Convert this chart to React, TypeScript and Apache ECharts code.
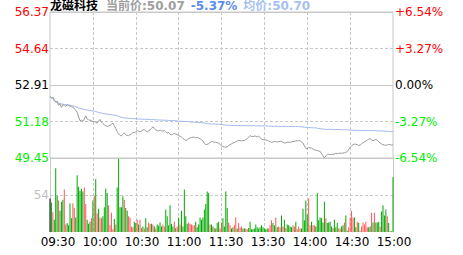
import React, { useEffect, useRef } from 'react';
import * as echarts from 'echarts';

const stockName = '龙磁科技';
const preClose = 52.91;
const pctRange = 6.54;
const xLabels = ['09:30', '10:00', '10:30', '11:00', '11:30', '13:30', '14:00', '14:30', '15:00'];
const volMax = 108;
const volMid = 54;

const prices = [
  52.37, 52.29, 52.33, 52.20, 52.10, 52.14, 51.95, 52.02, 51.85, 51.98,
  51.95, 51.90, 51.97, 51.93, 51.92, 51.88, 51.86, 51.78, 51.72, 51.62,
  51.40, 51.22, 51.24, 51.20, 51.30, 51.45, 51.30, 51.26, 51.24, 51.22,
  51.18, 51.17, 51.15, 51.10, 51.20, 51.28, 51.16, 51.08, 51.02, 50.98,
  50.95, 50.97, 51.00, 51.05, 51.10, 50.98, 50.85, 50.70, 50.60, 50.52,
  50.50, 50.58, 50.64, 50.55, 50.52, 50.51, 50.55, 50.60, 50.66, 50.64,
  50.70, 50.75, 50.72, 50.68, 50.72, 50.78, 50.80, 50.74, 50.69, 50.74,
  50.78, 50.85, 50.93, 50.84, 50.78, 50.75, 50.73, 50.78, 50.74, 50.73,
  50.75, 50.70, 50.63, 50.66, 50.57, 50.55, 50.58, 50.61, 50.58, 50.55,
  50.52, 50.48, 50.44, 50.38, 50.33, 50.29, 50.31, 50.37, 50.40, 50.42,
  50.44, 50.43, 50.41, 50.42, 50.40, 50.36, 50.32, 50.25, 50.15, 50.08,
  50.10, 50.13, 50.18, 50.24, 50.22, 50.19, 50.20, 50.17, 50.16, 50.10,
  50.02, 49.99, 49.97, 49.96, 49.98, 50.04, 50.08, 50.12, 50.16, 50.18,
  50.21, 50.26, 50.29, 50.27, 50.26, 50.28, 50.27, 50.32, 50.37, 50.44,
  50.51, 50.47, 50.46, 50.49, 50.48, 50.45, 50.48, 50.42, 50.34, 50.32,
  50.31, 50.30, 50.29, 50.26, 50.22, 50.19, 50.21, 50.23, 50.22, 50.21,
  50.23, 50.24, 50.24, 50.20, 50.16, 50.17, 50.19, 50.20, 50.19, 50.21,
  50.23, 50.24, 50.26, 50.27, 50.27, 50.26, 50.22, 50.16, 50.02, 49.90,
  49.88, 49.95, 49.93, 49.92, 49.88, 49.84, 49.82, 49.80, 49.78, 49.76,
  49.66, 49.55, 49.46, 49.55, 49.62, 49.63, 49.61, 49.62, 49.62, 49.64,
  49.67, 49.66, 49.67, 49.68, 49.67, 49.68, 49.70, 49.72, 49.75, 49.85,
  49.96, 50.02, 50.08, 50.11, 50.10, 50.07, 50.05, 50.06, 50.12, 50.18,
  50.21, 50.25, 50.30, 50.34, 50.37, 50.31, 50.27, 50.30, 50.33, 50.29,
  50.22, 50.16, 50.12, 50.08, 50.06, 50.05, 50.07, 50.09, 50.08, 50.07,
  50.07,
];

const avgPrices = [
  52.37, 52.31, 52.24, 52.16, 52.12, 52.09, 52.06, 52.03, 52.01, 52.00,
  51.99, 51.98, 51.98, 51.97, 51.95, 51.93, 51.92, 51.90, 51.88, 51.85,
  51.82, 51.80, 51.78, 51.77, 51.75, 51.74, 51.72, 51.71, 51.70, 51.69,
  51.68, 51.67, 51.65, 51.63, 51.61, 51.59, 51.58, 51.56, 51.55, 51.54,
  51.53, 51.52, 51.51, 51.50, 51.49, 51.48, 51.47, 51.45, 51.42, 51.40,
  51.38, 51.37, 51.35, 51.34, 51.34, 51.33, 51.33, 51.32, 51.32, 51.31,
  51.31, 51.30, 51.30, 51.30, 51.29, 51.29, 51.29, 51.28, 51.28, 51.28,
  51.27, 51.27, 51.27, 51.26, 51.26, 51.26, 51.25, 51.25, 51.25, 51.24,
  51.24, 51.24, 51.24, 51.23, 51.23, 51.23, 51.22, 51.22, 51.21, 51.20,
  51.20, 51.19, 51.19, 51.19, 51.18, 51.18, 51.18, 51.17, 51.16, 51.15,
  51.15, 51.14, 51.14, 51.14, 51.13, 51.13, 51.13, 51.12, 51.11, 51.09,
  51.08, 51.07, 51.07, 51.06, 51.06, 51.06, 51.05, 51.05, 51.05, 51.04,
  51.04, 51.03, 51.02, 51.01, 51.00, 51.00, 51.00, 51.00, 50.99, 50.99,
  50.99, 50.99, 50.99, 50.99, 50.98, 50.98, 50.98, 50.98, 50.98, 50.98,
  50.98, 50.98, 50.98, 50.98, 50.97, 50.97, 50.97, 50.97, 50.97, 50.97,
  50.97, 50.97, 50.96, 50.96, 50.96, 50.96, 50.95, 50.95, 50.95, 50.95,
  50.95, 50.95, 50.95, 50.95, 50.94, 50.94, 50.94, 50.94, 50.94, 50.94,
  50.94, 50.94, 50.94, 50.94, 50.94, 50.93, 50.93, 50.92, 50.91, 50.90,
  50.90, 50.89, 50.89, 50.89, 50.88, 50.88, 50.88, 50.86, 50.85, 50.84,
  50.83, 50.82, 50.81, 50.81, 50.81, 50.81, 50.81, 50.80, 50.80, 50.80,
  50.80, 50.80, 50.80, 50.80, 50.79, 50.79, 50.79, 50.79, 50.78, 50.77,
  50.77, 50.77, 50.77, 50.76, 50.76, 50.76, 50.76, 50.76, 50.76, 50.76,
  50.76, 50.76, 50.75, 50.75, 50.75, 50.75, 50.75, 50.75, 50.74, 50.74,
  50.74, 50.74, 50.73, 50.73, 50.72, 50.72, 50.72, 50.71, 50.71, 50.70,
  50.70,
];

const volumes = [
  49, 43, 29, 18, 93, 53, 46, 31, 44, 47,
  62, 11, 13, 10, 42, 20, 42, 35, 21, 83,
  66, 60, 63, 59, 65, 41, 18, 12, 15, 20,
  46, 53, 77, 27, 34, 21, 20, 23, 36, 63,
  57, 39, 10, 28, 4, 19, 11, 65, 107, 36,
  36, 52, 47, 35, 31, 23, 21, 8, 7, 15,
  13, 18, 11, 18, 6, 8, 5, 20, 7, 14,
  12, 12, 11, 8, 5, 11, 9, 14, 8, 11,
  8, 33, 23, 10, 39, 12, 8, 15, 6, 8,
  21, 11, 31, 8, 62, 23, 12, 14, 12, 11,
  10, 10, 15, 7, 11, 21, 18, 21, 33, 41,
  59, 57, 11, 11, 8, 6, 5, 13, 15, 5,
  14, 20, 8, 59, 35, 14, 10, 5, 7, 10,
  21, 5, 13, 6, 8, 5, 5, 5, 4, 6,
  15, 4, 4, 5, 11, 7, 5, 7, 10, 7,
  5, 4, 5, 5, 10, 17, 13, 10, 21, 7,
  8, 7, 24, 8, 18, 6, 11, 10, 8, 7,
  10, 8, 15, 4, 8, 5, 5, 34, 17, 46,
  25, 49, 10, 15, 10, 10, 8, 57, 17, 21,
  20, 14, 44, 20, 13, 14, 15, 8, 6, 18,
  7, 13, 5, 5, 8, 10, 14, 24, 2, 7,
  21, 31, 21, 21, 7, 15, 13, 2, 8, 14,
  11, 15, 7, 7, 8, 28, 14, 28, 14, 14,
  15, 8, 30, 39, 24, 33, 23, 13, 1, 1,
  80,
];

// K = flat (first), R = up, G = down
const volumeDirs = (
  'KGRGGGRGGG RRGGGGRRGG GGGGRRGGGR GRGRGRRGGG GRRRRGRGGG ' +
  'GGRGGRRRRG GRGRRGRGGR RGRGRGGGGR RGGGGGGRGR GRGGGGGRRR ' +
  'RRGGGGGGGG GGRGGRGGGR RGGGGRRGGR RGRRRGGRRG GGGGGGGGGG ' +
  'GGGRRRGGRG RRGRGRGGGG RRGRRRGGGG GRRGRRGGGG GGGRGGGGRG ' +
  'GGRRGGRGGR RRRGGRGRRR RRRGGRGRGG GRGGGGRGGG G'
).replace(/ /g, '');

const FONT = "'DejaVu Sans', 'Noto Sans CJK SC', sans-serif";
const GRID_COLOR = '#c8c8c8';
const RED = '#ff0000';
const GREEN = '#00ee00';

function pad2(n: number) {
  return n < 10 ? '0' + n : '' + n;
}

function buildTimes(): string[] {
  const t: string[] = [];
  for (let m = 9 * 60 + 30; m <= 11 * 60 + 30; m++) t.push(pad2(Math.floor(m / 60)) + ':' + pad2(m % 60));
  for (let m = 13 * 60 + 1; m <= 15 * 60; m++) t.push(pad2(Math.floor(m / 60)) + ':' + pad2(m % 60));
  return t;
}

const toPct = (p: number) => ((p - preClose) / preClose) * 100;
const signColor = (v: number) => (Math.abs(v) < 1e-6 ? '#000000' : v > 0 ? RED : GREEN);

export default function App() {
  const ref = useRef<HTMLDivElement>(null);

  useEffect(() => {
    if (!ref.current) return;
    const chart = echarts.init(ref.current, undefined, { renderer: 'svg' });
    const times = buildTimes();
    const last = prices[prices.length - 1];
    const lastAvg = avgPrices[avgPrices.length - 1];
    const chg = toPct(last);
    const dirColor: Record<string, string> = { K: '#000000', R: '#ff5555', G: '#00a800' };

    const option: any = {
      animation: false,
      backgroundColor: '#ffffff',
      title: {
        left: 50,
        top: 0,
        padding: 0,
        text:
          `{a|${stockName}}{b|当前价:${last.toFixed(2)}}` +
          `{c|${chg.toFixed(2)}%}{d|均价:${lastAvg.toFixed(2)}}`,
        textStyle: {
          fontFamily: FONT,
          fontSize: 12,
          rich: {
            a: { color: '#000000', fontSize: 12, fontFamily: FONT, padding: [0, 8, 0, 0] },
            b: { color: '#a0a0a0', fontSize: 12, fontFamily: FONT, padding: [0, 6, 0, 0] },
            c: { color: '#5b8cea', fontSize: 12, fontFamily: FONT, padding: [0, 6, 0, 0] },
            d: { color: '#a6bff2', fontSize: 12, fontFamily: FONT },
          },
        },
      },
      grid: [
        { left: 50, top: 12, width: 343, height: 146, show: true, borderColor: GRID_COLOR, borderWidth: 1, backgroundColor: 'transparent' },
        { left: 50, top: 158, width: 343, height: 74 },
        { left: 58, top: 231, width: 336, height: 1 },
      ],
      xAxis: [
        {
          type: 'category', gridIndex: 0, data: times, boundaryGap: false,
          axisLine: { show: false }, axisTick: { show: false }, axisLabel: { show: false },
          splitLine: {
            show: true,
            interval: (idx: number) => idx % 30 === 0 && idx > 0 && idx < 240,
            lineStyle: { color: GRID_COLOR, type: [3, 2], width: 1 },
          },
        },
        {
          type: 'category', gridIndex: 1, data: times, boundaryGap: false,
          axisLine: { show: false }, axisTick: { show: false }, axisLabel: { show: false },
          splitLine: {
            show: true,
            interval: (idx: number) => idx % 30 === 0 && idx > 0 && idx < 240,
            lineStyle: { color: GRID_COLOR, type: [3, 2], width: 1 },
          },
        },
        {
          type: 'category', gridIndex: 2, data: xLabels, boundaryGap: false,
          axisLine: { show: false }, axisTick: { show: false },
          axisLabel: { show: true, interval: 0, margin: 4, color: '#000000', fontSize: 12, fontFamily: FONT },
          splitLine: { show: false },
        },
      ],
      yAxis: [
        {
          type: 'value', gridIndex: 0, position: 'left', min: -pctRange, max: pctRange, interval: pctRange / 2,
          axisLine: { show: false }, axisTick: { show: false },
          axisLabel: {
            margin: 1, fontSize: 12, fontFamily: FONT,
            formatter: (v: number) => (preClose * (1 + Number(v) / 100)).toFixed(2),
            color: (v: any) => signColor(Number(v)),
          },
          splitLine: { show: true, lineStyle: { color: GRID_COLOR, type: [3, 2], width: 1 } },
        },
        {
          type: 'value', gridIndex: 0, position: 'right', min: -pctRange, max: pctRange, interval: pctRange / 2,
          axisLine: { show: false }, axisTick: { show: false },
          axisLabel: {
            margin: 2, fontSize: 12, fontFamily: FONT,
            formatter: (v: number) => {
              const n = Number(v);
              if (Math.abs(n) < 1e-6) return '0.00%';
              return (n > 0 ? '+' : '') + n.toFixed(2) + '%';
            },
            color: (v: any) => signColor(Number(v)),
          },
          splitLine: { show: false },
        },
        {
          type: 'value', gridIndex: 0, position: 'left', min: -pctRange, max: pctRange, interval: pctRange,
          axisLine: { show: false }, axisTick: { show: false }, axisLabel: { show: false },
          splitLine: { show: true, lineStyle: { color: GRID_COLOR, type: 'solid', width: 1 } },
        },
        {
          type: 'value', gridIndex: 1, position: 'left', min: 0, max: volMax, interval: volMid,
          axisLine: { show: true, lineStyle: { color: GRID_COLOR, width: 1 } }, axisTick: { show: false },
          axisLabel: {
            margin: 1, fontSize: 12, fontFamily: FONT, color: '#c0c0c0',
            formatter: (v: number) => (Number(v) === volMid ? String(volMid) : ''),
          },
          splitLine: { show: true, showMinLine: false, showMaxLine: false, lineStyle: { color: GRID_COLOR, type: [3, 2], width: 1 } },
        },
        {
          type: 'value', gridIndex: 1, position: 'right', min: 0, max: volMax, interval: volMid,
          axisLine: { show: true, lineStyle: { color: GRID_COLOR, width: 1 } }, axisTick: { show: false },
          axisLabel: { show: false }, splitLine: { show: false },
        },
        { type: 'value', gridIndex: 2, show: false },
      ],
      series: [
        {
          type: 'bar', xAxisIndex: 1, yAxisIndex: 3, barWidth: 1,
          data: volumes.map((v, i) => ({ value: v, itemStyle: { color: dirColor[volumeDirs[i]] || '#00a800' } })),
        },
        {
          type: 'line', xAxisIndex: 0, yAxisIndex: 0, symbol: 'none', silent: true,
          data: avgPrices.map(toPct),
          lineStyle: { color: '#9cb7f0', width: 1 },
        },
        {
          type: 'line', xAxisIndex: 0, yAxisIndex: 0, symbol: 'none', silent: true,
          data: prices.map(toPct),
          lineStyle: { color: '#999999', width: 1 },
        },
      ],
    };

    chart.setOption(option);
    return () => chart.dispose();
  }, []);

  return (
    <div
      ref={ref}
      style={{ position: 'fixed', left: 0, top: 0, width: 463, height: 255, background: '#fff' }}
    />
  );
}
